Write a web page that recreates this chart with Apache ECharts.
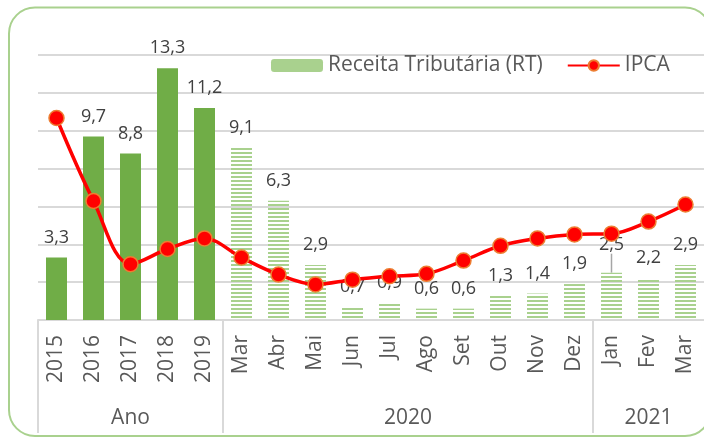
<!DOCTYPE html>
<html>
<head>
<meta charset="utf-8">
<script src="https://cdn.jsdelivr.net/npm/echarts@6/dist/echarts.min.js"></script>
<style>
  html, body { margin: 0; padding: 0; background: #fff; }
  #myChart { width: 704px; height: 437px; }
</style>
</head>
<body>
<div id="myChart"></div>
<script>
// categories (first level) and groups (second level)
var categories = ['2015', '2016', '2017', '2018', '2019',
  'Mar', 'Abr', 'Mai', 'Jun', 'Jul', 'Ago', 'Set', 'Out', 'Nov', 'Dez',
  'Jan', 'Fev', 'Mar'];
var groupNames = ['Ano', '2020', '2021'];
var groupSizes = [5, 10, 3];

// Receita Tributária (RT)
var receita = [3.3, 9.7, 8.8, 13.3, 11.2,
  9.1, 6.3, 2.9, 0.7, 0.9, 0.6, 0.6, 1.3, 1.4, 1.9,
  2.5, 2.2, 2.9];
// IPCA
var ipca = [10.67, 6.29, 2.95, 3.75, 4.31,
  3.30, 2.40, 1.88, 2.13, 2.31, 2.44, 3.14, 3.92, 4.31, 4.52,
  4.56, 5.20, 6.10];

var font = 'Open Sans';

// striped fill for the monthly bars
var stripe = document.createElement('canvas');
stripe.width = 4; stripe.height = 4;
var ctx = stripe.getContext('2d');
ctx.fillStyle = '#a9d18e';
ctx.fillRect(0, 0, 4, 2);

// group boundaries and centers on a -0.5..n-0.5 scale
var bounds = [-0.5], centers = [], start = 0;
groupSizes.forEach(function (s) {
  centers.push(start + (s - 1) / 2);
  start += s;
  bounds.push(start - 0.5);
});
bounds.pop();

var janIdx = categories.lastIndexOf('Jan');

var barData = receita.map(function (v, i) {
  var item = {
    value: v,
    itemStyle: { color: i < groupSizes[0] ? '#70ad47' : { image: stripe, repeat: 'repeat' } }
  };
  if (i === janIdx) {
    item.labelLine = { show: true, lineStyle: { color: '#a6a6a6', width: 1.5 } };
  }
  return item;
});

var option = {
  animation: false,
  textStyle: { fontFamily: font },
  graphic: [{
    type: 'rect',
    shape: { x: 9, y: 7.5, width: 702, height: 428.5, r: 26 },
    style: { fill: 'none', stroke: '#a9d18e', lineWidth: 2 },
    z: -1
  }],
  legend: {
    left: 266,
    top: 50,
    itemWidth: 52,
    itemHeight: 13,
    itemGap: 24,
    textStyle: { fontFamily: font, fontSize: 21, color: '#595959' },
    data: [
      { name: 'Receita Tributária (RT)', itemStyle: { color: '#a9d18e' } },
      { name: 'IPCA' }
    ]
  },
  grid: { left: 38, top: 55, width: 668, height: 265, containLabel: false },
  xAxis: [{
    type: 'category',
    data: categories,
    axisLine: { lineStyle: { color: '#d9d9d9', width: 2 } },
    axisTick: { show: false },
    axisLabel: { rotate: 90, fontSize: 21, color: '#595959', margin: 15, fontFamily: font }
  }, {
    type: 'value',
    position: 'bottom',
    min: -0.5,
    max: categories.length - 0.5,
    axisLine: { show: false },
    splitLine: { show: false },
    axisTick: { show: true, customValues: bounds, length: 113, lineStyle: { color: '#d9d9d9', width: 2 } },
    axisLabel: {
      customValues: centers,
      margin: 88,
      fontSize: 21,
      color: '#595959',
      fontFamily: font,
      formatter: function (v) { return groupNames[centers.indexOf(v)]; }
    }
  }],
  yAxis: {
    type: 'value',
    min: 0,
    max: 14,
    interval: 2,
    axisLabel: { show: false },
    axisLine: { show: false },
    axisTick: { show: false },
    splitLine: { lineStyle: { color: '#d9d9d9', width: 2 } }
  },
  series: [{
    name: 'Receita Tributária (RT)',
    type: 'bar',
    barWidth: 21,
    data: barData,
    itemStyle: { color: '#a9d18e' },
    label: {
      show: true,
      position: 'top',
      distance: 11,
      fontSize: 18,
      color: '#404040',
      fontFamily: font,
      formatter: function (p) { return String(p.value).replace('.', ','); }
    },
    labelLine: { show: false },
    labelLayout: function (p) {
      // Jan 2021 label was pushed up
      if (p.dataIndex === janIdx) return { dy: -8 };
    }
  }, {
    name: 'IPCA',
    type: 'line',
    data: ipca,
    smooth: 0.35,
    symbol: 'circle',
    symbolSize: 15,
    lineStyle: { color: '#ff0000', width: 3.5 },
    itemStyle: { color: '#ff0000', borderColor: '#ed7d31', borderWidth: 1.5 },
    z: 5
  }]
};

var myChart = echarts.init(document.getElementById('myChart'));
myChart.setOption(option);
</script>
</body>
</html>
